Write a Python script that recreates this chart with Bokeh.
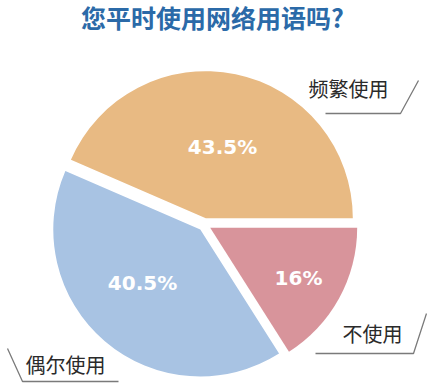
import numpy as np
from bokeh.plotting import figure
from bokeh.models import Range1d, ColumnDataSource
from bokeh.core.properties import value
from bokeh.embed import file_html
from bokeh.resources import INLINE

# ---- data ----
title_text = "您平时使用网络用语吗?"
categories = ["频繁使用", "偶尔使用", "不使用"]
percents = [43.5, 40.5, 16.0]
colors = ["#E8BA83", "#A8C3E3", "#D8949B"]

W, H = 427, 383
OX, OY = 0, 0
p = figure(width=W, height=H, x_range=Range1d(0, W), y_range=Range1d(0, H),
           output_backend="svg", toolbar_location=None, min_border=0)
p.axis.visible = False
p.grid.visible = False
p.outline_line_color = None
p.background_fill_color = "white"
p.border_fill_color = "white"

def px(x, y):
    # picture pixel -> data coords
    return x - OX, H - (y - OY)

cx, cy = px(204, 224)
R = 147
explode = 6.5

vals = np.array(percents)
ends = np.cumsum(vals) / 100 * 2 * np.pi
starts = np.concatenate([[0], ends[:-1]])
mids = (starts + ends) / 2
xs = cx + explode * np.cos(mids)
ys = cy + explode * np.sin(mids)

src = ColumnDataSource(dict(x=xs, y=ys, s=starts, e=ends, c=colors))
p.wedge(x="x", y="y", radius=R, start_angle="s", end_angle="e",
        fill_color="c", line_color=None, source=src)

# percentage labels
pct_pos = [px(222, 146), px(142, 282), px(298, 277)]
p.text(x=[q[0] for q in pct_pos], y=[q[1] for q in pct_pos],
       text=[f"{v:g}%" for v in percents],
       text_font=value("DejaVu Sans"), text_font_style="bold",
       text_font_size="20px", text_color="white",
       text_align="center", text_baseline="middle")

# category labels
lab_pos = [px(348, 88), px(65, 364), px(372, 333)]
p.text(x=[q[0] for q in lab_pos], y=[q[1] for q in lab_pos], text=categories,
       text_font=value("Noto Sans CJK SC"), text_font_size="20px",
       text_color="#2a2a2a", text_align="center", text_baseline="middle")

# leader lines
leaders = [
    [(325, 113), (400, 113), (418, 80)],
    [(7, 348), (22, 381), (118, 381)],
    [(315, 353), (413, 353), (426, 313)],
]
for pts in leaders:
    q = [px(a, b) for a, b in pts]
    p.line([t[0] for t in q], [t[1] for t in q], line_color="#7a7a7a",
           line_width=1.3)

# title
tx, ty = px(212, 16)
p.text(x=[tx], y=[ty], text=[title_text],
       text_font=value("Noto Sans CJK SC"), text_font_style="bold",
       text_font_size="25px", text_color="#2B6AA8",
       text_align="center", text_baseline="middle")

open("out.html", "w").write(file_html(p, INLINE))
